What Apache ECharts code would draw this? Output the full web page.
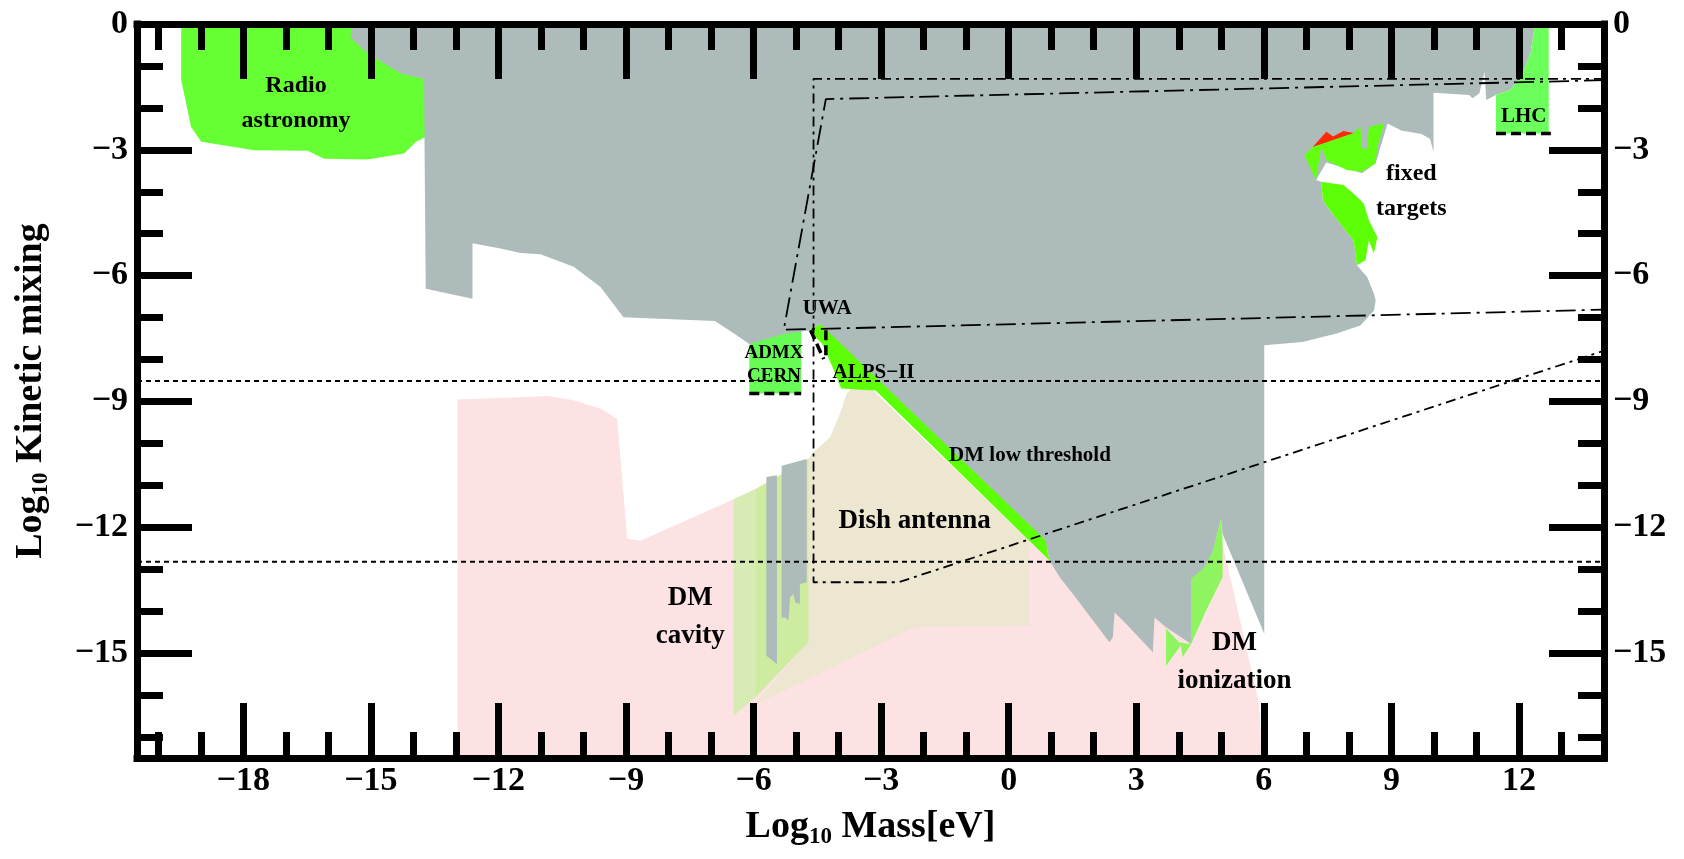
<!DOCTYPE html>
<html>
<head>
<meta charset="utf-8">
<script src="https://cdn.jsdelivr.net/npm/echarts@6/dist/echarts.min.js"></script>
<style>
  html, body { margin: 0; padding: 0; background: #fff; }
  #chart { width: 1684px; height: 859px; }
</style>
</head>
<body>
<div id="chart"></div>
<script>
// axis ticks
const majorX = [-18, -15, -12, -9, -6, -3, 0, 3, 6, 9, 12];
const minorX = [-20, -19, -17, -16, -14, -13, -11, -10, -8, -7, -5, -4, -2, -1, 1, 2, 4, 5, 7, 8, 10, 11, 13];
const majorY = [0, -3, -6, -9, -12, -15];
const minorY = [-1, -2, -4, -5, -7, -8, -10, -11, -13, -14, -16, -17];

// shaded regions, [log10 mass, log10 mixing]
const radioAstronomy = [[-19.46, 0], [-19.46, -1.34], [-19.23, -2.45], [-18.99, -2.81], [-17.74, -3.01], [-16.49, -3.02], [-16.10, -3.21], [-15.08, -3.23], [-14.22, -3.09], [-13.94, -2.81], [-13.70, -2.69], [-13.70, 0]];
const pinkRegion = [[-12.96, -17.5], [-12.96, -8.95], [-11.17, -8.89], [-10.85, -8.87], [-10.23, -8.97], [-9.60, -9.17], [-9.21, -9.41], [-8.97, -12.27], [-8.66, -12.32], [-6.47, -11.33], [-5.96, -11.09], [-4.71, -10.37], [-4.20, -9.95], [-3.70, -9.0], [-3.13, -8.80], [0.96, -12.79], [5.03, -12.39], [5.89, -16.21], [5.95, -17.5]];
const dishAntenna = [[-4.71, -10.37], [-4.59, -10.21], [-4.20, -9.85], [-3.97, -9.29], [-3.81, -8.81], [-3.65, -8.66], [-3.19, -8.74], [0.49, -12.33], [0.49, -14.34], [-2.21, -14.38], [-6.00, -16.25], [-4.71, -14.74]];
const cavityLeft = [[-6.47, -11.33], [-5.96, -11.09], [-5.96, -16.05], [-6.47, -16.49]];
const cavityRight = [[-5.96, -11.09], [-4.71, -10.37], [-4.71, -14.74], [-5.96, -16.05]];
const cavityStrip1 = [[-5.70, -10.80], [-5.45, -10.76], [-5.45, -15.26], [-5.70, -15.06]];
const cavityStrip2 = [[-5.34, -10.53], [-4.75, -10.37], [-4.75, -13.31], [-4.91, -13.35], [-4.91, -13.83], [-5.02, -13.79], [-5.06, -13.59], [-5.14, -13.67], [-5.18, -14.22], [-5.26, -14.15], [-5.34, -14.15]];
const admx = [[-6.10, -7.4], [-4.88, -7.3], [-4.88, -8.81], [-6.10, -8.81]];
const excluded = [[-15.47, 0], [-15.47, -0.34], [-15.08, -0.70], [-14.30, -1.18], [-13.79, -1.30], [-13.75, -1.34], [-13.71, -6.31], [-12.61, -6.55], [-12.61, -5.23], [-11.95, -5.35], [-11.48, -5.46], [-11.01, -5.49], [-10.23, -5.79], [-9.60, -6.27], [-9.06, -6.99], [-6.91, -7.08], [-6.46, -7.38], [-6.10, -7.63], [-5.29, -7.39], [-4.70, -7.31], [-4.44, -7.16], [0.90, -12.50], [0.96, -12.79], [1.20, -13.19], [1.51, -13.59], [2.37, -14.74], [2.45, -14.62], [2.49, -14.03], [2.76, -14.30], [3.39, -14.98], [3.43, -14.15], [3.70, -14.38], [4.29, -14.78], [4.99, -11.80], [5.03, -12.16], [6.01, -14.54], [6.01, -7.66], [6.91, -7.58], [7.71, -7.38], [8.27, -7.19], [8.59, -6.83], [8.63, -6.59], [8.59, -6.43], [8.43, -6.03], [8.19, -5.75], [8.11, -5.16], [7.67, -4.60], [7.39, -4.20], [7.35, -3.76], [7.23, -3.72], [7.47, -3.30], [8.31, -3.56], [8.63, -3.32], [8.91, -2.37], [9.23, -2.54], [9.71, -2.62], [9.91, -2.74], [9.99, -3.05], [9.99, -1.64], [10.83, -1.69], [10.91, -1.77], [11.07, -1.65], [11.19, -1.14], [11.23, -1.81], [11.46, -1.69], [11.78, -1.58], [12.06, -1.26], [12.27, -0.70], [12.38, 0]];
const alpsStripe = [[-4.70, -7.31], [-4.44, -7.16], [-4.30, -7.28], [0.86, -12.30], [0.96, -12.79], [-3.13, -8.74], [-3.50, -8.72], [-3.94, -8.69], [-4.12, -8.23], [-4.39, -7.62]];
const lhc = [[12.38, 0], [12.70, 0], [12.70, -2.61], [11.46, -2.61], [11.46, -1.69], [11.78, -1.58], [12.06, -1.26], [12.27, -0.70]];
const fixedUpper = [[6.95, -3.13], [7.15, -2.93], [8.11, -2.60], [8.27, -2.45], [8.31, -2.97], [8.43, -2.97], [8.47, -2.45], [8.83, -2.37], [8.67, -2.93], [8.63, -3.32], [8.31, -3.52], [7.95, -3.48], [7.47, -3.25], [7.35, -2.93], [7.23, -3.72]];
const fixedRed = [[7.15, -2.93], [7.47, -2.57], [7.63, -2.68], [7.87, -2.55], [8.11, -2.60]];
const fixedLower = [[7.35, -3.76], [7.87, -3.84], [8.11, -4.04], [8.35, -4.28], [8.47, -4.68], [8.67, -5.08], [8.59, -5.47], [8.47, -5.16], [8.39, -5.63], [8.19, -5.75], [8.11, -5.16], [7.67, -4.60], [7.39, -4.20]];
const ionization = [[3.70, -14.42], [4.01, -14.74], [4.25, -14.78], [4.29, -14.70], [4.29, -13.23], [4.60, -12.95], [4.80, -12.55], [4.99, -11.80], [5.03, -12.24], [5.03, -13.19], [4.64, -13.99], [4.29, -14.78], [4.09, -15.10], [4.05, -14.82], [3.70, -15.30]];

// projected sensitivities / limits
const dotUpper = [[-20.5, -8.51], [14, -8.51]];
const dotLower = [[-20.5, -12.82], [14, -12.82]];
const lineShortDash = [[14, -1.31], [-4.59, -1.31], [-4.59, -13.31], [-2.59, -13.31], [14, -7.79]];
const lineLongDash = [[14, -1.34], [-4.30, -1.79], [-5.29, -7.29], [14, -6.81]];
const admxLimit = [[-6.10, -8.81], [-4.88, -8.81]];
const lhcLimit = [[11.46, -2.61], [12.75, -2.61]];
const uwaLimitA = [[-4.66, -7.30], [-4.35, -7.99]];
const uwaLimitB = [[-4.30, -7.30], [-4.30, -7.98]];

// annotations
const labels = [
  { text: 'Radio\nastronomy', at: [-16.76, -1.90], size: 'l' },
  { text: 'fixed\ntargets', at: [9.47, -3.98], size: 'l' },
  { text: 'LHC', at: [12.11, -2.21], size: 'm' },
  { text: 'UWA', at: [-4.27, -6.78], size: 'm' },
  { text: 'ADMX\nCERN', at: [-5.52, -8.13], size: 's' },
  { text: 'ALPS\u2212II', at: [-3.18, -8.30], size: 'm' },
  { text: 'DM low threshold', at: [0.50, -10.29], size: 'm' },
  { text: 'Dish antenna', at: [-2.21, -11.84], size: 'xl' },
  { text: 'DM\ncavity', at: [-7.49, -14.13], size: 'xl' },
  { text: 'DM\nionization', at: [5.31, -15.22], size: 'xl' }
];

const serif = '"Liberation Serif", "Times New Roman", serif';
const fontSizes = { s: 19, m: 21, l: 24, xl: 27 };
const lineHeights = { s: 23, m: 25, l: 35, xl: 38 };
const minus = (v) => String(v).replace('-', '\u2212');

function area(pts, color, z) {
  return {
    type: 'custom', silent: true, z: z, data: [[0, 0]],
    renderItem: (params, api) => ({
      type: 'polygon',
      shape: { points: pts.map((p) => api.coord(p)) },
      style: { fill: color }
    })
  };
}

function path(pts, width, dash) {
  return {
    type: 'line', silent: true, z: 8, data: pts, symbol: 'none',
    lineStyle: { color: '#000', width: width, type: dash }
  };
}

function xAx(pos, ticks, len, withLine, withLabel) {
  return {
    type: 'value', position: pos, min: -20.5, max: 14, z: 10,
    axisLine: { show: withLine, onZero: false, lineStyle: { color: '#000', width: 7, cap: 'square' } },
    axisTick: { show: true, inside: true, length: len, customValues: ticks, lineStyle: { color: '#000', width: 7 } },
    axisLabel: {
      show: withLabel, customValues: ticks, formatter: minus, margin: 6,
      color: '#000', fontSize: 34, fontWeight: 'bold', fontFamily: serif
    },
    splitLine: { show: false }
  };
}

function yAx(pos, ticks, len, withLine, withLabel) {
  return {
    type: 'value', position: pos, min: -17.5, max: 0, z: 10,
    axisLine: { show: withLine, onZero: false, lineStyle: { color: '#000', width: 7, cap: 'square' } },
    axisTick: { show: true, inside: true, length: len, customValues: ticks, lineStyle: { color: '#000', width: 7 } },
    axisLabel: {
      show: withLabel, customValues: ticks, formatter: minus, margin: 9,
      color: '#000', fontSize: 34, fontWeight: 'bold', fontFamily: serif
    },
    splitLine: { show: false }
  };
}

const titleRich = {
  a: { fontSize: 38, fontWeight: 'bold', fontFamily: serif, color: '#000' },
  s: { fontSize: 23, fontWeight: 'bold', fontFamily: serif, color: '#000', padding: [20, 0, 0, 0] }
};

const xMain = xAx('bottom', majorX, 55, true, true);
xMain.name = '{a|Log}{s|10}{a| Mass[eV]}';
xMain.nameLocation = 'middle';
xMain.nameGap = 48;
xMain.nameTextStyle = { rich: titleRich };

const yMain = yAx('left', majorY, 55, true, true);
yMain.name = '{a|Log}{s|10}{a| Kinetic mixing}';
yMain.nameLocation = 'middle';
yMain.nameRotate = 90;
yMain.nameGap = 84;
yMain.nameTextStyle = { rich: titleRich };

const option = {
  animation: false,
  backgroundColor: '#fff',
  grid: { left: 137, right: 80, top: 24, bottom: 101, show: false },
  xAxis: [
    xMain,
    xAx('bottom', minorX, 26, false, false),
    xAx('top', majorX, 55, true, false),
    xAx('top', minorX, 26, false, false)
  ],
  yAxis: [
    yMain,
    yAx('left', minorY, 26, false, false),
    yAx('right', majorY, 55, true, true),
    yAx('right', minorY, 26, false, false)
  ],
  series: [
    area(pinkRegion, '#fde2e3', 1),
    area(dishAntenna, '#ede6d1', 2),
    area(cavityLeft, '#d7ebb4', 3),
    area(cavityRight, '#cdeca0', 3),
    area(cavityStrip1, '#adbcbb', 4),
    area(cavityStrip2, '#adbcbb', 4),
    area(radioAstronomy, '#66ff33', 3),
    area(admx, '#66fb55', 3),
    area(excluded, '#adbcbb', 5),
    area(alpsStripe, '#5cff05', 6),
    area(lhc, '#6cff5c', 6),
    area(fixedUpper, '#62ff10', 6),
    area(fixedLower, '#5cff05', 6),
    area(fixedRed, '#ff2a00', 6),
    area(ionization, '#8ef560', 6),
    path(dotUpper, 2, [5, 4]),
    path(dotLower, 2, [5, 4]),
    path(lineShortDash, 1.8, [10, 5, 3, 5]),
    path(lineLongDash, 1.8, [20, 6, 3, 6]),
    path(admxLimit, 3.5, [10, 5]),
    path(lhcLimit, 3.5, [10, 5]),
    path(uwaLimitA, 3.5, [10, 5]),
    path(uwaLimitB, 3.5, [10, 5]),
    {
      type: 'custom', silent: true, z: 9,
      data: labels.map((l, i) => [i, 0]),
      renderItem: (params, api) => {
        const l = labels[params.dataIndex];
        const p = api.coord(l.at);
        return {
          type: 'text', x: p[0], y: p[1],
          style: {
            text: l.text, fill: '#000', align: 'center', verticalAlign: 'middle',
            fontSize: fontSizes[l.size], lineHeight: lineHeights[l.size],
            fontWeight: 'bold', fontFamily: serif
          }
        };
      }
    }
  ]
};

const chart = echarts.init(document.getElementById('chart'));
chart.setOption(option);
</script>
</body>
</html>
